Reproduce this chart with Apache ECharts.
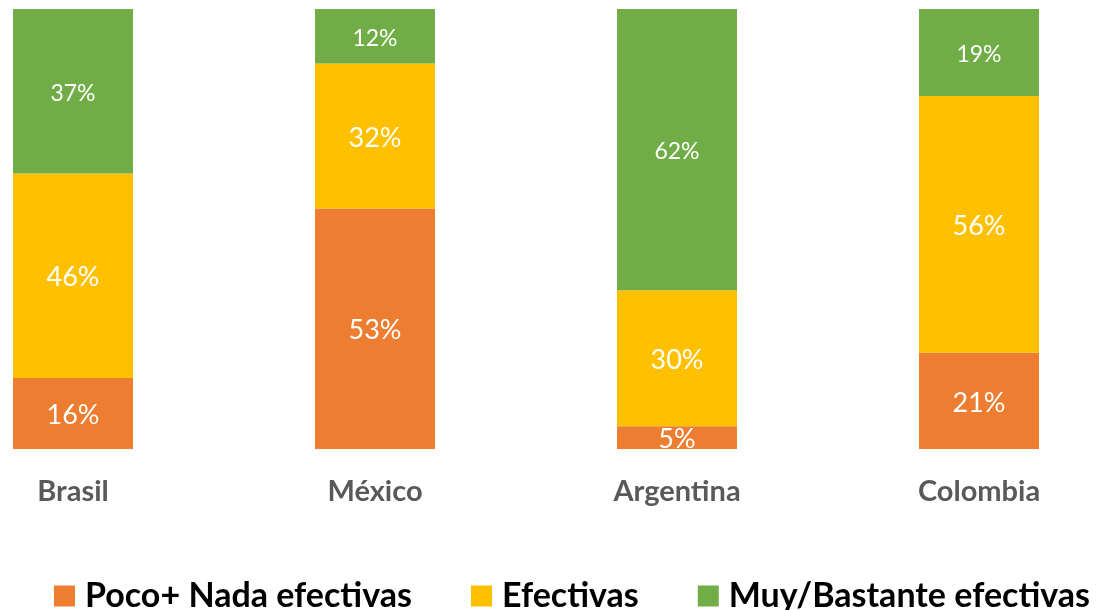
<!DOCTYPE html>
<html><head><meta charset="utf-8">
<script src="https://cdn.jsdelivr.net/npm/echarts@6/dist/echarts.min.js"></script>
<style>html,body{margin:0;padding:0;background:#fff;overflow:hidden;width:1104px;height:610px}#c{width:1208px;height:610px;margin-left:-78px}</style>
</head><body><div id="c"></div>
<script>
const categories = ['Brasil', 'México', 'Argentina', 'Colombia'];
const seriesNames = ['Poco+ Nada efectivas', 'Efectivas', 'Muy/Bastante efectivas'];
const pocoNada = [16, 53, 5, 21];
const efectivas = [46, 32, 30, 56];
const muyBastante = [37, 12, 62, 19];

const raw = [pocoNada, efectivas, muyBastante];
const totals = categories.map((_, i) => raw.reduce((s, a) => s + a[i], 0));
const colors = ['#ED7D31', '#FFC000', '#70AD47'];
const labelSizes = [27, 27, 23];
const FONT = 'Lato';

const chart = echarts.init(document.getElementById('c'));
chart.setOption({
  animation: false,
  textStyle: { fontFamily: FONT },
  grid: { left: 0, right: 0, top: 9, bottom: 161, containLabel: false },
  legend: {
    left: 127, top: 574, itemWidth: 21, itemHeight: 21, itemGap: 59,
    icon: 'rect',
    textStyle: { fontFamily: FONT, fontWeight: 'bold', fontSize: 34, lineHeight: 34, color: '#000', padding: [0, 0, 0, 5] },
    data: seriesNames
  },
  xAxis: {
    type: 'category', data: categories,
    axisLine: { show: false }, axisTick: { show: false },
    axisLabel: { margin: 28, fontFamily: FONT, fontWeight: 'bold', fontSize: 29, color: '#595959' }
  },
  yAxis: { type: 'value', min: 0, max: 1, show: false, splitLine: { show: false } },
  series: raw.map((arr, k) => ({
    name: seriesNames[k], type: 'bar', stack: 'total', barWidth: 120,
    itemStyle: { color: colors[k] },
    label: {
      show: true, position: 'inside', offset: [0, 2], color: '#fff', fontFamily: FONT,
      fontSize: labelSizes[k],
      formatter: p => raw[k][p.dataIndex] + '%'
    },
    data: arr.map((v, i) => v / totals[i])
  }))
});
</script></body></html>
